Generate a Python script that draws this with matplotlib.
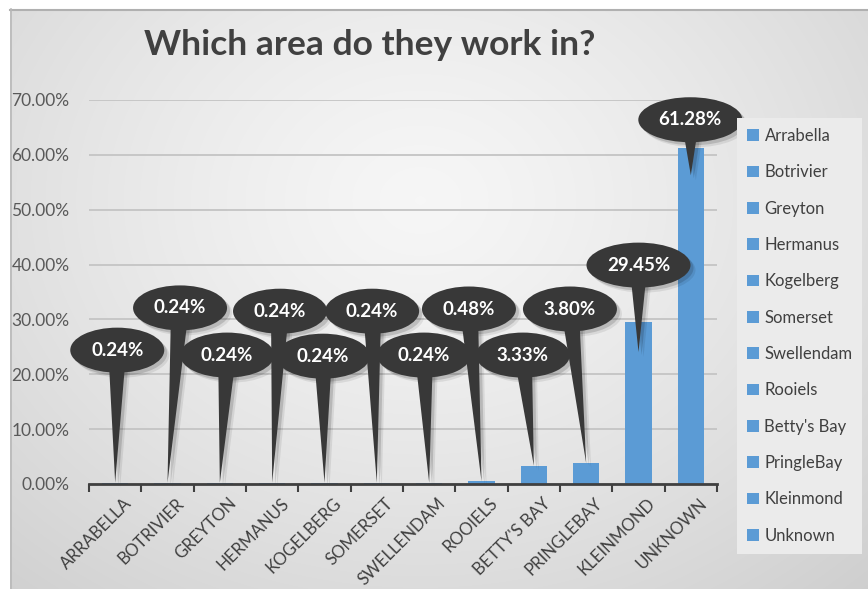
import numpy as np
import matplotlib
matplotlib.use("Agg")
import matplotlib.pyplot as plt
from matplotlib.patches import Ellipse, Polygon
from matplotlib.transforms import ScaledTranslation

# ---------------- data ----------------
categories = ["ARRABELLA", "BOTRIVIER", "GREYTON", "HERMANUS", "KOGELBERG", "SOMERSET",
              "SWELLENDAM", "ROOIELS", "BETTY'S BAY", "PRINGLEBAY", "KLEINMOND", "UNKNOWN"]
legend_names = ["Arrabella", "Botrivier", "Greyton", "Hermanus", "Kogelberg", "Somerset",
                "Swellendam", "Rooiels", "Betty's Bay", "PringleBay", "Kleinmond", "Unknown"]
values = [0.24, 0.24, 0.24, 0.24, 0.24, 0.24, 0.24, 0.48, 3.33, 3.80, 29.45, 61.28]
y_ticks = [0, 10, 20, 30, 40, 50, 60, 70]
title = "Which area do they work in?"

# ---------------- callout layout (label centre offsets) ----------------
label_dx = [0.04, 0.24, 0.14, 0.15, -0.03, -0.09, -0.10, -0.24, -0.21, -0.31, 0.0, -0.01]
label_y = [24.4, 32.1, 23.5, 31.5, 23.3, 31.5, 23.5, 31.9, 23.5, 31.9, 39.9, 66.4]
tip_inset = [0, 0, 0, 0, 0, 0, 0, 0, 0, 0, 5.4, 5.0]

BAR = "#5B9BD5"
CALLOUT = "#383838"
TXT = "#404040"
FONT = ["Lato", "DejaVu Sans"]
plt.rcParams["font.family"] = FONT

W, H = 868, 589
fig = plt.figure(figsize=(W / 100, H / 100), dpi=100)
fig.patch.set_facecolor("white")

# background gradient panel
bg = fig.add_axes([0, 0, 1, 1], zorder=-10)
bg.set_xlim(0, W)
bg.set_ylim(H, 0)
bg.axis("off")
yy, xx = np.mgrid[0:H, 0:W]
r = np.sqrt(((xx - 420) / 640.0) ** 2 + ((yy - 200) / 520.0) ** 2)
val = np.clip(0.965 - 0.15 * r ** 1.3, 0.78, 1)
img = np.dstack([val, val, val])
img[:9, :, :] = 1.0
img[:, :10, :] = 1.0
bg.imshow(img, extent=(0, W, H, 0), aspect="auto", interpolation="bilinear")
bg.plot([10, W], [9.5, 9.5], color="#b0b0b0", lw=1.5)
bg.plot([10.5, 10.5], [9, H], color="#b8b8b8", lw=1.2)

# main axes
ax = fig.add_axes([89 / W, 1 - 484 / H, (717 - 89) / W, (484 - 100) / H])
ax.patch.set_alpha(0)
ax.set_xlim(-0.5, 11.5)
ax.set_ylim(0, 70)

bars = []
for i, v in enumerate(values):
    b = ax.bar(i, v, width=0.5, color=BAR, label=legend_names[i], zorder=3)
    bars.append(b)

ax.set_yticks(y_ticks)
ax.set_yticklabels([f"{t:.2f}%" for t in y_ticks], fontsize=12.5, color="#595959")
ax.yaxis.grid(True, color="#c4c4c4", lw=1.3)
ax.set_axisbelow(True)
ax.tick_params(axis="y", length=0, pad=14)

ax.set_xticks(range(len(categories)))
ax.set_xticklabels(categories, rotation=45, ha="right", rotation_mode="anchor",
                   fontsize=12.2, color=TXT)
ax.tick_params(axis="x", which="major", length=0, pad=8)
ax.set_xticks(np.arange(-0.5, len(categories), 1), minor=True)
ax.tick_params(axis="x", which="minor", length=6, width=1.5, color=TXT, direction="out")
for lab in ax.get_xticklabels():
    lab.set_transform(lab.get_transform() + ScaledTranslation(6 / 72, 0, fig.dpi_scale_trans))

for s in ["top", "right", "left"]:
    ax.spines[s].set_visible(False)
ax.spines["bottom"].set_color(TXT)
ax.spines["bottom"].set_linewidth(2)
ax.spines["bottom"].set_zorder(4)

# callouts
sx = ax.bbox.width / 12.0
sy = ax.bbox.height / 70.0
half_base = 9.0
for i, v in enumerate(values):
    txt = f"{v:.2f}%"
    cx = i + label_dx[i]
    cy = label_y[i]
    tipy = v - tip_inset[i]
    ew = (104 if len(txt) > 5 else 94) / sx
    eh = 45 / sy
    for off, a in [(5, 0.08), (3, 0.14)]:
        dxs, dys = off / sx, -off / sy
        ax.add_patch(Ellipse((cx + dxs, cy + dys), ew, eh, facecolor="black", alpha=a,
                             edgecolor="none", zorder=4, clip_on=False))
        ax.add_patch(Polygon([(cx - half_base / sx + dxs, cy + dys), (cx + half_base / sx + dxs, cy + dys),
                              (i + dxs, tipy + dys)], closed=True, facecolor="black", alpha=a,
                             edgecolor="none", zorder=4, clip_on=False))
    ax.add_patch(Polygon([(cx - half_base / sx, cy), (cx + half_base / sx, cy), (i, tipy)],
                         closed=True, facecolor=CALLOUT, edgecolor="none", zorder=5, clip_on=False))
    ax.add_patch(Ellipse((cx, cy), ew, eh, facecolor=CALLOUT, edgecolor="none", zorder=5,
                         clip_on=False))
    ax.text(cx, cy, txt, ha="center", va="center", color="white", fontweight="bold",
            fontsize=13.5, zorder=6, clip_on=False)

# legend
leg = ax.legend([b.patches[0] for b in bars], legend_names, loc="upper left",
                bbox_to_anchor=(737 / W, 1 - 552 / H, 125 / W, 434 / H), mode="expand",
                bbox_transform=fig.transFigure, frameon=True, facecolor="#ebebeb",
                edgecolor="none", fancybox=False, framealpha=1, fontsize=12,
                labelcolor=TXT, handlelength=0.7, handleheight=0.7, handletextpad=0.35,
                labelspacing=1.22, borderpad=0.6, borderaxespad=0)
leg.set_zorder(7)

fig.text(370 / W, 1 - 55 / H, title, ha="center", va="baseline", fontsize=25.5,
         fontweight="bold", color=TXT)

fig.savefig("out.png", dpi=100, facecolor=fig.get_facecolor())
